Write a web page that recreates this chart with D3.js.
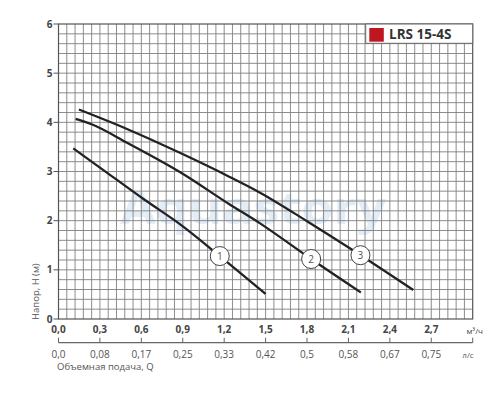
<!DOCTYPE html>
<meta charset="utf-8">
<script src="https://d3js.org/d3.v7.min.js"></script>
<style>
  body { margin: 0; background: #fff; }
  text { font-family: "Open Sans", sans-serif; }
</style>
<svg id="chart" width="500" height="400"></svg>
<script>

// Q in m3/h, H in m
var curve1 = [[0.107, 3.47], [0.3, 3.08], [0.626, 2.42], [0.879, 1.93], [1.168, 1.28], [1.5, 0.51]];
var curve2 = [[0.124, 4.07], [0.24, 3.96], [0.5, 3.58], [0.879, 2.99], [1.24, 2.33], [1.457, 1.95], [1.83, 1.22], [2.19, 0.54]];
var curve3 = [[0.148, 4.26], [0.5, 3.86], [0.879, 3.38], [1.24, 2.89], [1.46, 2.57], [1.8, 1.99], [2.11, 1.44], [2.57, 0.59]];
var curveNames = ["1", "2", "3"];
var labelQ = [1.168, 1.83, 2.187];

var xTicks = [0, 0.3, 0.6, 0.9, 1.2, 1.5, 1.8, 2.1, 2.4, 2.7];
var xTickLabels = ["0,0", "0,3", "0,6", "0,9", "1,2", "1,5", "1,8", "2,1", "2,4", "2,7"];
var lsTickLabels = ["0,0", "0,08", "0,17", "0,25", "0,33", "0,42", "0,5", "0,58", "0,67", "0,75"];
var yTicks = [0, 1, 2, 3, 4, 5, 6];

var svg = d3.select("#chart");

var x = d3.scaleLinear().domain([0, 3]).range([58.5, 472.7]);
var y = d3.scaleLinear().domain([0, 6]).range([319, 24]);

// watermark
svg.append("text")
  .attr("x", 120).attr("y", 224)
  .attr("textLength", 266)
  .attr("lengthAdjust", "spacingAndGlyphs")
  .style("font-size", "44px")
  .style("font-weight", "bold")
  .style("fill", "#e2edf7")
  .text("Aquastory");

// grid
var grid = svg.append("g");
grid.selectAll(".vx")
  .data(d3.range(1, 50).map(function(i) { return i * 0.06; }))
  .enter().append("line")
    .attr("x1", function(d) { return x(d); })
    .attr("x2", function(d) { return x(d); })
    .attr("y1", y(0)).attr("y2", y(6))
    .style("stroke", "#808080").style("stroke-width", 0.9);
grid.selectAll(".hy")
  .data(d3.range(1, 30).map(function(i) { return i * 0.2; }))
  .enter().append("line")
    .attr("y1", function(d) { return y(d); })
    .attr("y2", function(d) { return y(d); })
    .attr("x1", x(0)).attr("x2", x(3))
    .style("stroke", "#808080").style("stroke-width", 0.9);

svg.append("rect")
  .attr("x", x(0)).attr("y", y(6))
  .attr("width", x(3) - x(0)).attr("height", y(0) - y(6))
  .style("fill", "none").style("stroke", "#555").style("stroke-width", 1.2);

// y axis
svg.selectAll(".ytick")
  .data(yTicks)
  .enter().append("line")
    .attr("x1", x(0) - 5).attr("x2", x(0))
    .attr("y1", function(d) { return y(d); })
    .attr("y2", function(d) { return y(d); })
    .style("stroke", "#555");
svg.selectAll(".ylab")
  .data(yTicks)
  .enter().append("text")
    .attr("x", 52.5)
    .attr("y", function(d) { return y(d) + 3.5; })
    .attr("text-anchor", "end")
    .style("font-size", "10px").style("font-weight", "bold").style("fill", "#444")
    .text(function(d) { return d; });

svg.append("text")
  .attr("transform", "translate(38.5,320) rotate(-90)")
  .style("font-size", "9.5px").style("fill", "#555")
  .text("Напор, Н (м)");

// x axis m3/h
svg.selectAll(".xlab")
  .data(xTicks)
  .enter().append("text")
    .attr("x", function(d) { return x(d); })
    .attr("y", 333)
    .attr("text-anchor", "middle")
    .style("font-size", "10px").style("font-weight", "bold").style("fill", "#444")
    .text(function(d, i) { return xTickLabels[i]; });
svg.append("text")
  .attr("x", 466.5).attr("y", 334)
  .style("font-size", "8px").style("fill", "#444")
  .text("м³/ч");

// second axis l/s
var ly = 342.7;
svg.append("line")
  .attr("x1", x(0)).attr("x2", x(3))
  .attr("y1", ly).attr("y2", ly)
  .style("stroke", "#666").style("stroke-width", 1.2);
svg.selectAll(".lstick")
  .data(xTicks.concat([3]))
  .enter().append("line")
    .attr("x1", function(d) { return x(d); })
    .attr("x2", function(d) { return x(d); })
    .attr("y1", ly).attr("y2", ly - 5)
    .style("stroke", "#666");
svg.selectAll(".lslab")
  .data(xTicks)
  .enter().append("text")
    .attr("x", function(d) { return x(d); })
    .attr("y", 357.5)
    .attr("text-anchor", "middle")
    .style("font-size", "10px").style("fill", "#555")
    .text(function(d, i) { return lsTickLabels[i]; });
svg.append("text")
  .attr("x", 468).attr("y", 357.5)
  .attr("text-anchor", "middle")
  .style("font-size", "8px").style("fill", "#555")
  .text("л/с");

svg.append("text")
  .attr("x", 57).attr("y", 370)
  .style("font-size", "9.5px").style("fill", "#555")
  .text("Объемная подача, Q");

// curves
var line = d3.line()
  .x(function(d) { return x(d[0]); })
  .y(function(d) { return y(d[1]); })
  .curve(d3.curveMonotoneX);

var curves = [curve1, curve2, curve3];
svg.selectAll(".curve")
  .data(curves)
  .enter().append("path")
    .attr("d", line)
    .style("fill", "none")
    .style("stroke", "#222")
    .style("stroke-width", 2.3);

// value on a curve at a given Q
function hAt(pts, q) {
  for (var i = 1; i < pts.length; i++) {
    if (q <= pts[i][0]) {
      var t = (q - pts[i - 1][0]) / (pts[i][0] - pts[i - 1][0]);
      return pts[i - 1][1] + t * (pts[i][1] - pts[i - 1][1]);
    }
  }
  return pts[pts.length - 1][1];
}

var marks = svg.selectAll(".mark")
  .data(curves)
  .enter().append("g")
    .attr("transform", function(d, i) {
      return "translate(" + x(labelQ[i]) + "," + y(hAt(d, labelQ[i])) + ")";
    });
marks.append("circle")
  .attr("r", 9.5)
  .style("fill", "#fff").style("stroke", "#444").style("stroke-width", 1);
marks.append("text")
  .attr("y", 3.5)
  .attr("text-anchor", "middle")
  .style("font-size", "10px").style("fill", "#555")
  .text(function(d, i) { return curveNames[i]; });

// legend
svg.append("rect")
  .attr("x", 365.7).attr("y", y(6))
  .attr("width", x(3) - 365.7).attr("height", 19.3)
  .style("fill", "#fff").style("stroke", "#666").style("stroke-width", 1);
svg.append("rect")
  .attr("x", 369.3).attr("y", 28)
  .attr("width", 14.5).attr("height", 13.7)
  .style("fill", "#c0161f");
svg.append("text")
  .attr("x", 389).attr("y", 39.2)
  .style("font-size", "13.5px").style("font-weight", "bold").style("fill", "#333")
  .text("LRS 15-4S");

</script>
